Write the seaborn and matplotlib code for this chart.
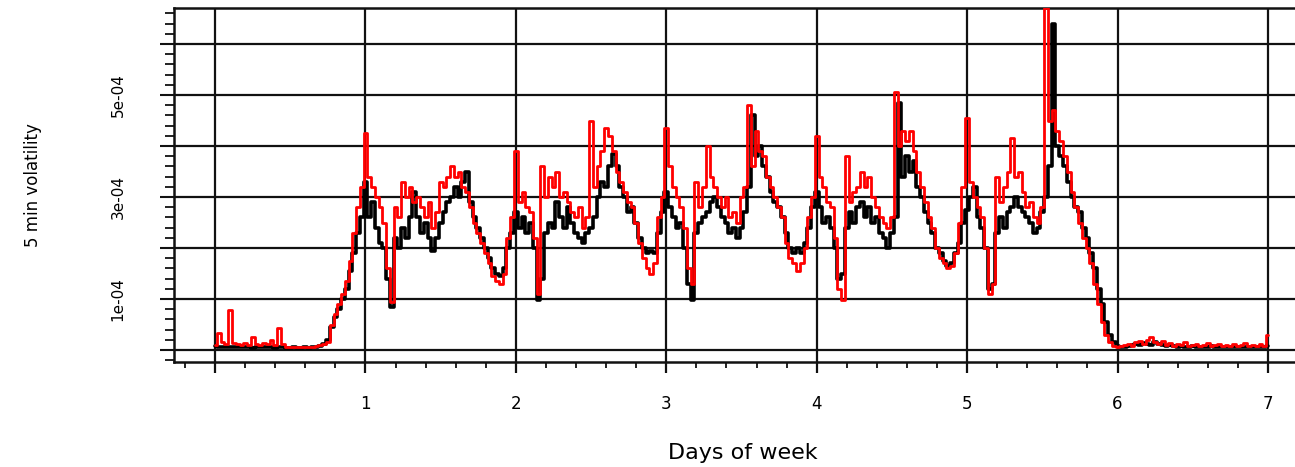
import numpy as np
import pandas as pd
import matplotlib
matplotlib.use("Agg")
import matplotlib.pyplot as plt
from matplotlib.ticker import MultipleLocator, FixedLocator, FuncFormatter
import seaborn as sns

# time grid in days (5-min volatility sampled, read every 0.025 day)
days = np.round(np.arange(0, 7.0001, 0.025), 3)

# black series (units of 1e-4)
black_vals = [
    0.08, 0.06, 0.05, 0.05, 0.06, 0.05, 0.05, 0.06, 0.05, 0.05,
    0.04, 0.05, 0.05, 0.06, 0.05, 0.05, 0.04, 0.05, 0.05, 0.04,
    0.04, 0.05, 0.04, 0.04, 0.05, 0.04, 0.05, 0.06, 0.08,
    0.12, 0.20, 0.45, 0.65, 0.80, 1.00, 1.20, 1.55, 1.90, 2.30, 2.60,
    3.30, 2.60, 2.90, 2.40, 2.10, 2.00, 1.40, 0.85, 2.20, 2.00,
    2.40, 2.20, 2.60, 3.10, 2.60, 2.30, 2.50, 2.20, 1.95, 2.20,
    2.50, 2.70, 2.90, 3.00, 3.20, 3.00, 3.30, 3.50, 2.90, 2.60,
    2.40, 2.20, 2.00, 1.80, 1.60, 1.50, 1.45, 1.60, 2.00, 2.30,
    2.70, 2.40, 2.60, 2.30, 2.50, 2.00, 0.98, 1.40, 2.30, 2.50,
    2.40, 2.90, 2.60, 2.40, 2.80, 2.50, 2.30, 2.20, 2.10, 2.30,
    2.40, 2.60, 3.00, 3.30, 3.20, 3.60, 3.85, 3.60, 3.20, 3.00,
    2.70, 2.80, 2.50, 2.20, 2.00, 1.90, 1.95, 1.90, 2.30, 2.70,
    3.10, 2.80, 2.60, 2.40, 2.50, 2.00, 1.30, 0.98, 2.30, 2.50,
    2.60, 2.70, 2.90, 3.00, 2.80, 2.60, 2.50, 2.30, 2.40, 2.20,
    2.40, 2.70, 3.20, 4.60, 3.80, 4.00, 3.60, 3.40, 3.10, 2.90,
    2.80, 2.60, 2.30, 2.00, 1.90, 2.00, 1.90, 2.10, 2.40, 2.80,
    3.10, 2.80, 2.50, 2.60, 2.40, 2.00, 1.40, 1.50, 2.40, 2.70,
    2.50, 2.80, 2.90, 2.60, 2.80, 2.50, 2.60, 2.30, 2.20, 2.00,
    2.30, 2.60, 4.85, 3.40, 3.80, 3.50, 3.70, 3.20, 3.00, 2.70,
    2.50, 2.30, 2.00, 1.90, 1.75, 1.65, 1.70, 1.90, 2.10, 2.50,
    2.75, 3.00, 3.20, 2.60, 2.40, 2.00, 1.20, 1.30, 2.30, 2.60,
    2.40, 2.70, 2.80, 3.00, 2.80, 2.70, 2.60, 2.50, 2.30, 2.40,
    2.70, 3.00, 3.60, 6.40, 4.00, 3.80, 3.60, 3.30, 3.00, 2.80,
    2.70, 2.40, 2.20, 1.90, 1.60, 1.20, 0.90, 0.55, 0.30, 0.15,
    0.08,
    0.05, 0.06, 0.08, 0.10, 0.12, 0.10, 0.14, 0.12, 0.10, 0.16,
    0.12, 0.10, 0.08, 0.10, 0.07, 0.06, 0.08, 0.06, 0.05, 0.07,
    0.06, 0.05, 0.06, 0.05, 0.07, 0.05, 0.06, 0.05, 0.05, 0.06,
    0.05, 0.05, 0.06, 0.05, 0.05, 0.06, 0.05, 0.05, 0.06, 0.07,
]

# red series (units of 1e-4)
red_vals = [
    0.10, 0.33, 0.15, 0.12, 0.78, 0.14, 0.12, 0.10, 0.14, 0.10,
    0.25, 0.12, 0.10, 0.14, 0.12, 0.20, 0.10, 0.43, 0.12, 0.06,
    0.05, 0.06, 0.05, 0.05, 0.06, 0.05, 0.06, 0.07, 0.09,
    0.12, 0.15, 0.50, 0.70, 0.90, 1.10, 1.35, 1.75, 2.30, 2.80, 3.20,
    4.25, 3.40, 3.20, 3.00, 2.80, 2.50, 1.60, 0.95, 2.80, 2.60,
    3.30, 3.00, 3.20, 2.90, 3.00, 2.80, 2.60, 2.90, 2.40, 2.70,
    3.30, 3.20, 3.40, 3.60, 3.40, 3.50, 3.20, 3.10, 2.80, 2.50,
    2.30, 2.10, 1.90, 1.70, 1.45, 1.35, 1.30, 1.50, 2.20, 2.60,
    3.90, 2.90, 3.10, 2.80, 2.70, 2.20, 1.10, 3.60, 3.00, 3.40,
    3.20, 3.50, 3.00, 3.10, 2.90, 2.70, 2.60, 2.80, 2.40, 2.60,
    4.50, 3.20, 3.60, 3.90, 4.35, 4.20, 3.90, 3.50, 3.30, 3.10,
    2.90, 2.80, 2.50, 2.10, 1.80, 1.60, 1.50, 1.70, 2.60, 3.00,
    4.35, 3.60, 3.20, 3.00, 2.80, 2.40, 1.60, 1.30, 3.30, 2.80,
    3.20, 4.00, 3.40, 3.20, 3.00, 2.80, 3.00, 2.60, 2.70, 2.50,
    3.00, 3.20, 4.80, 3.60, 4.30, 3.90, 3.80, 3.40, 3.20, 3.00,
    2.80, 2.60, 2.10, 1.80, 1.70, 1.55, 1.70, 2.00, 2.60, 3.00,
    4.20, 3.40, 3.20, 2.90, 2.80, 2.20, 1.20, 0.98, 3.80, 2.90,
    3.10, 3.20, 3.50, 3.20, 3.40, 3.00, 2.80, 2.60, 2.50, 2.40,
    2.60, 5.05, 4.00, 4.30, 4.10, 4.30, 3.90, 3.50, 3.20, 2.90,
    2.60, 2.40, 2.00, 1.80, 1.70, 1.60, 1.65, 1.90, 2.50, 3.20,
    4.55, 3.30, 3.00, 2.80, 2.60, 2.00, 1.10, 1.30, 3.40, 2.90,
    3.20, 3.50, 4.15, 3.40, 3.50, 3.10, 2.80, 2.90, 2.60, 2.50,
    2.80, 6.70, 4.50, 4.70, 4.30, 4.10, 3.80, 3.50, 3.10, 2.80,
    2.50, 2.20, 2.00, 1.70, 1.30, 0.90, 0.55, 0.30, 0.15, 0.08,
    0.06,
    0.08, 0.10, 0.12, 0.08, 0.15, 0.18, 0.12, 0.20, 0.25, 0.15,
    0.12, 0.18, 0.10, 0.14, 0.08, 0.12, 0.10, 0.15, 0.08, 0.10,
    0.12, 0.08, 0.10, 0.14, 0.08, 0.10, 0.12, 0.08, 0.10, 0.08,
    0.12, 0.08, 0.10, 0.14, 0.08, 0.10, 0.08, 0.12, 0.08, 0.30,
]

x_tick_labels = ["", "1", "2", "3", "4", "5", "6", "7"]
y_tick_labels = {1: "1e-04", 3: "3e-04", 5: "5e-04"}

df = pd.DataFrame({
    "day": np.concatenate([days, days]),
    "vol": np.concatenate([np.array(black_vals), np.array(red_vals)]) * 1e-4,
    "series": ["black"] * len(days) + ["red"] * len(days),
})

sns.set_style("white")
plt.rcParams["font.family"] = ["DejaVu Sans"]
plt.rcParams["text.color"] = "black"
plt.rcParams["axes.labelcolor"] = "black"
plt.rcParams["xtick.color"] = "black"
plt.rcParams["ytick.color"] = "black"

W, H = 1295, 467
fig = plt.figure(figsize=(W / 100, H / 100), dpi=100)
ax_left, ax_right, ax_top, ax_bot = 174, 1295, 8, 362
ax = fig.add_axes([ax_left / W, 1 - ax_bot / H, (ax_right - ax_left) / W, (ax_bot - ax_top) / H])

sns.lineplot(data=df[df.series == "black"], x="day", y="vol", color="black",
             linewidth=2.6, drawstyle="steps-mid", estimator=None, ax=ax, zorder=3)
sns.lineplot(data=df[df.series == "red"], x="day", y="vol", color="#ff0000",
             linewidth=2.0, drawstyle="steps-mid", estimator=None, ax=ax, zorder=4)

ax.set_xlim(-0.273, 7.18)
ax.set_ylim(-0.235e-4, 6.706e-4)

# ticks and grid
ax.xaxis.set_major_locator(FixedLocator(range(0, 8)))
ax.xaxis.set_minor_locator(MultipleLocator(0.2))
ax.xaxis.set_major_formatter(FuncFormatter(lambda v, p: x_tick_labels[int(round(v))] if 0 <= round(v) < 8 else ""))
ax.yaxis.set_major_locator(FixedLocator([i * 1e-4 for i in range(0, 7)]))
ax.yaxis.set_minor_locator(MultipleLocator(0.2e-4))
ax.yaxis.set_major_formatter(FuncFormatter(lambda v, p: y_tick_labels.get(int(round(v * 1e4)), "")))
ax.grid(True, which="major", color="#111111", linewidth=1.6, zorder=1)
ax.set_axisbelow(True)

for s in ["top", "left", "bottom"]:
    ax.spines[s].set_visible(True)
    ax.spines[s].set_color("#111111")
    ax.spines[s].set_linewidth(1.8)
ax.spines["right"].set_visible(False)

ax.tick_params(axis="y", which="major", direction="out", length=10, width=1.5,
               color="#111111", pad=25, labelsize=11, labelrotation=90, left=True)
ax.tick_params(axis="y", which="minor", direction="out", length=6.5, width=1.3,
               color="#111111", left=True)
ax.tick_params(axis="x", which="major", direction="out", length=8, width=1.6,
               color="#111111", pad=16, labelsize=12, bottom=True)
ax.tick_params(axis="x", which="minor", direction="out", length=4.3, width=1.3,
               color="#111111", bottom=True)
for lab in ax.get_yticklabels():
    lab.set_verticalalignment("center")

ax.set_xlabel("Days of week", fontsize=16)
ax.set_ylabel("5 min volatility", fontsize=12)
ax.xaxis.set_label_coords(0.507, -0.229)
ax.yaxis.set_label_coords(-0.1178, 0.5)

fig.savefig("out.png", dpi=100)
